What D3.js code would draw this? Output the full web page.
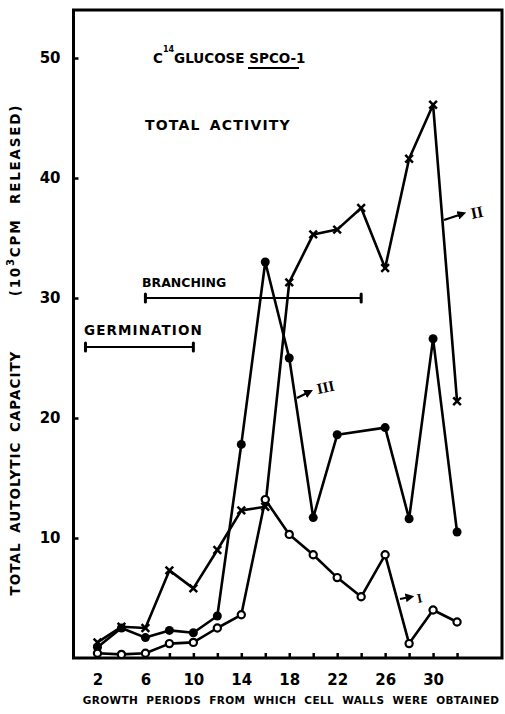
<!DOCTYPE html>
<html>
<head>
<meta charset="utf-8">
<script src="https://cdn.jsdelivr.net/npm/d3@7"></script>
<style>
  body { margin: 0; background: #fff; }
  text { font-family: "DejaVu Sans", sans-serif; font-weight: bold; fill: #000; }
</style>
</head>
<body>
<div id="visContainer"></div>
<script>
// growth periods
const periods = [2, 4, 6, 8, 10, 12, 14, 16, 18, 20, 22, 24, 26, 28, 30, 32];
// curve I (open circles)
const seriesI = [0.4, 0.3, 0.4, 1.2, 1.3, 2.5, 3.6, 13.2, 10.3, 8.6, 6.7, 5.1, 8.6, 1.2, 4.0, 3.0];
// curve II (crosses)
const seriesII = [1.3, 2.6, 2.5, 7.3, 5.8, 9.0, 12.3, 12.6, 31.3, 35.3, 35.7, 37.5, 32.5, 41.6, 46.1, 21.4];
// curve III (filled dots) - no point at 24
const periodsIII = [2, 4, 6, 8, 10, 12, 14, 16, 18, 20, 22, 26, 28, 30, 32];
const seriesIII = [0.9, 2.5, 1.7, 2.3, 2.1, 3.5, 17.8, 33.0, 25.0, 11.7, 18.6, 19.2, 11.6, 26.6, 10.5];

const xTicks = d3.range(2, 33, 2);
const xTickLabels = [2, 6, 10, 14, 18, 22, 26, 30];
const yTickLabels = [10, 20, 30, 40, 50];

// phase bars
const germination = [1, 10];
const branching = [6, 24];

const width = 505;
const height = 714;
const margin = { top: 10, right: 3, bottom: 56, left: 73.5 };

const svg = d3.select("#visContainer")
  .append("svg")
  .attr("width", width)
  .attr("height", height);

const xScale = d3.scaleLinear()
  .domain([0, 35.75])
  .range([margin.left, width - margin.right]);

const yScale = d3.scaleLinear()
  .domain([0, 54])
  .range([height - margin.bottom, margin.top]);

// frame
svg.append("rect")
  .attr("x", xScale(0))
  .attr("y", yScale(54))
  .attr("width", xScale(35.75) - xScale(0))
  .attr("height", yScale(0) - yScale(54))
  .attr("fill", "none")
  .attr("stroke", "#000")
  .attr("stroke-width", 3);

// x axis ticks (pointing inward)
const xAxis = svg.append("g")
  .attr("transform", `translate(0, ${yScale(0)})`)
  .call(d3.axisBottom(xScale).tickValues(xTicks).tickSizeInner(-5).tickSizeOuter(0)
    .tickFormat((d) => xTickLabels.includes(d) ? d : ""));
xAxis.select(".domain").remove();
xAxis.selectAll("line").attr("stroke", "#000").attr("stroke-width", 2.5);
xAxis.selectAll("text")
  .attr("y", 16)
  .style("font-size", "15px")
  .style("font-family", "'DejaVu Sans', sans-serif")
  .style("font-weight", "bold");

// y axis ticks
const yAxis = svg.append("g")
  .attr("transform", `translate(${xScale(0)}, 0)`)
  .call(d3.axisLeft(yScale).tickValues(yTickLabels).tickSizeInner(-5).tickSizeOuter(0));
yAxis.select(".domain").remove();
yAxis.selectAll("line").attr("stroke", "#000").attr("stroke-width", 2.5);
yAxis.selectAll("text")
  .attr("x", -13)
  .style("font-size", "15px")
  .style("font-family", "'DejaVu Sans', sans-serif")
  .style("font-weight", "bold");

// axis titles
svg.append("text")
  .attr("transform", `translate(20, 473) rotate(-90)`)
  .attr("text-anchor", "middle")
  .style("font-size", "13.5px")
  .attr("letter-spacing", 1)
  .attr("word-spacing", 4)
  .text("TOTAL AUTOLYTIC CAPACITY");

const yt2 = svg.append("text")
  .attr("transform", `translate(20, 200) rotate(-90)`)
  .attr("text-anchor", "middle")
  .style("font-size", "13.5px")
  .attr("letter-spacing", 1.8)
  .attr("word-spacing", 8);
yt2.append("tspan").text("(10");
yt2.append("tspan").attr("dy", -6).style("font-size", "10px").text("3");
yt2.append("tspan").attr("dy", 6).text("CPM RELEASED)");

svg.append("text")
  .attr("x", 291)
  .attr("y", 704)
  .attr("text-anchor", "middle")
  .style("font-size", "10.5px")
  .attr("letter-spacing", 0.4)
  .attr("word-spacing", 4)
  .text("GROWTH PERIODS FROM WHICH CELL WALLS WERE OBTAINED");

// title texts
const t1 = svg.append("text").attr("x", 153).attr("y", 63).style("font-size", "13.5px");
t1.append("tspan").text("C");
t1.append("tspan").attr("dy", -11).style("font-size", "8px").text("14");
t1.append("tspan").attr("dy", 11).text("GLUCOSE ");
t1.append("tspan").text("SPCO-1");
svg.append("line")
  .attr("x1", 248).attr("x2", 299)
  .attr("y1", 68).attr("y2", 68)
  .attr("stroke", "#000").attr("stroke-width", 2);

svg.append("text")
  .attr("x", 145).attr("y", 130)
  .style("font-size", "14px")
  .attr("letter-spacing", 1.2)
  .attr("word-spacing", 3)
  .text("TOTAL ACTIVITY");

svg.append("text")
  .attr("x", 142).attr("y", 287)
  .style("font-size", "12.5px")
  .text("BRANCHING");

svg.append("text")
  .attr("x", 84).attr("y", 335)
  .style("font-size", "13.5px")
  .attr("letter-spacing", 1.1)
  .text("GERMINATION");

// phase bars
function phaseBar(range, yPix) {
  svg.append("line")
    .attr("x1", xScale(range[0])).attr("x2", xScale(range[1]))
    .attr("y1", yPix).attr("y2", yPix)
    .attr("stroke", "#000").attr("stroke-width", 2);
  range.forEach((v) => {
    svg.append("line")
      .attr("x1", xScale(v)).attr("x2", xScale(v))
      .attr("y1", yPix - 4).attr("y2", yPix + 4)
      .attr("stroke", "#000").attr("stroke-width", 3)
      .attr("stroke-linecap", "round");
  });
}
phaseBar(branching, 298);
phaseBar(germination, 347);

// lines
const line = d3.line()
  .x((d) => xScale(d[0]))
  .y((d) => yScale(d[1]));

const dataI = periods.map((p, i) => [p, seriesI[i]]);
const dataII = periods.map((p, i) => [p, seriesII[i]]);
const dataIII = periodsIII.map((p, i) => [p, seriesIII[i]]);

[dataI, dataII, dataIII].forEach((data) => {
  svg.append("path")
    .datum(data)
    .attr("d", line)
    .attr("fill", "none")
    .attr("stroke", "#000")
    .attr("stroke-width", 2.6)
    .attr("stroke-linejoin", "round");
});

// markers
svg.selectAll("path.markII")
  .data(dataII)
  .join("path")
  .attr("class", "markII")
  .attr("transform", (d) => `translate(${xScale(d[0])}, ${yScale(d[1])})`)
  .attr("d", d3.symbol(d3.symbolX, 40))
  .attr("fill", "none")
  .attr("stroke", "#000")
  .attr("stroke-width", 2.5);

svg.selectAll("circle.markIII")
  .data(dataIII)
  .join("circle")
  .attr("class", "markIII")
  .attr("cx", (d) => xScale(d[0]))
  .attr("cy", (d) => yScale(d[1]))
  .attr("r", 4.5)
  .attr("fill", "#000");

svg.selectAll("circle.markI")
  .data(dataI)
  .join("circle")
  .attr("class", "markI")
  .attr("cx", (d) => xScale(d[0]))
  .attr("cy", (d) => yScale(d[1]))
  .attr("r", 3.6)
  .attr("fill", "#fff")
  .attr("stroke", "#000")
  .attr("stroke-width", 2.2);

// curve labels with arrows
svg.append("defs").append("marker")
  .attr("id", "arrow")
  .attr("viewBox", "0 0 10 10")
  .attr("refX", 5).attr("refY", 5)
  .attr("markerWidth", 4).attr("markerHeight", 4)
  .attr("orient", "auto")
  .append("path")
  .attr("d", "M0,0 L10,5 L0,10 z")
  .attr("fill", "#000");

function curveLabel(x1, y1, x2, y2, label, tx, ty, size) {
  svg.append("line")
    .attr("x1", x1).attr("y1", y1).attr("x2", x2).attr("y2", y2)
    .attr("stroke", "#000").attr("stroke-width", 2.2)
    .attr("marker-end", "url(#arrow)");
  svg.append("text")
    .attr("x", tx).attr("y", ty)
    .attr("transform", `rotate(-12, ${tx}, ${ty})`)
    .style("font-family", "'Liberation Serif', serif")
    .style("font-size", size)
    .text(label);
}
curveLabel(444, 220, 462, 214, "II", 472, 219, "16px");
curveLabel(297, 398, 309, 392, "III", 318, 394, "15px");
curveLabel(400, 599, 410, 597, "I", 418, 603, "13px");
</script>
</body>
</html>
